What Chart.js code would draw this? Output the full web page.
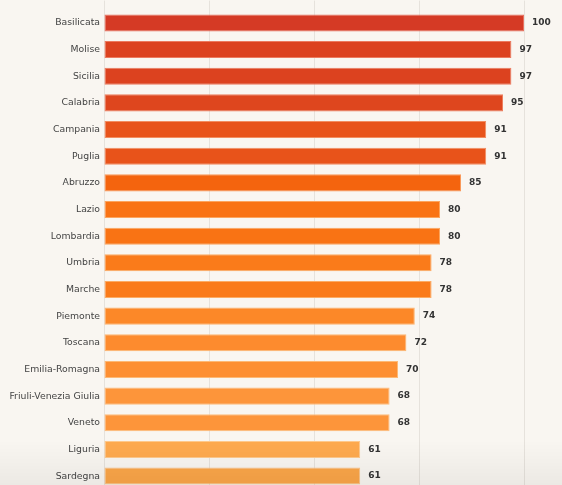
<!DOCTYPE html>
<html>
<head>
<meta charset="utf-8">
<script src="https://cdn.jsdelivr.net/npm/chart.js@4"></script>
<style>
  html, body { margin: 0; padding: 0; background: #f9f6f1; overflow: hidden; }
  #wrap { position: relative; width: 562px; height: 499px; }
  #shade { position: absolute; left: 0; right: 0; top: 440px; height: 45px;
    background: linear-gradient(to bottom, rgba(0,0,0,0), rgba(0,0,0,0.05)); pointer-events: none; }
</style>
</head>
<body>
<div id="wrap">
  <canvas id="chart"></canvas>
  <div id="shade"></div>
</div>
<script>
const regions = ["Basilicata","Molise","Sicilia","Calabria","Campania","Puglia","Abruzzo","Lazio","Lombardia","Umbria","Marche","Piemonte","Toscana","Emilia-Romagna","Friuli-Venezia Giulia","Veneto","Liguria","Sardegna"]
const values = [100,97,97,95,91,91,85,80,80,78,78,74,72,70,68,68,61,61]
const barColors = ["#d53a25","#dc421f","#dc421f","#de461e","#e8531a","#e8531a","#f4640e","#f97314","#f97314","#fa7b1a","#fa7b1a","#fc8828","#fd8b2e","#fd8f32","#fd953a","#fd953a","#feaa4f","#fba649"]
const borderColors = ["#e8705f","#ec7a5e","#ec7a5e","#ee7e5c","#f28d60","#f28d60","#f9995a","#fca55e","#fca55e","#fcac64","#fcac64","#fdb46e","#fdb672","#fdb975","#fdbd7c","#fdbd7c","#fec98c","#fcc489"]

const valueLabels = {
    id: "valueLabels",
    afterDatasetsDraw(chart){
        const ctx = chart.ctx
        const meta = chart.getDatasetMeta(0)
        ctx.save()
        ctx.font = "bold 9px 'DejaVu Sans'"
        ctx.fillStyle = "#333333"
        ctx.textBaseline = "middle"
        ctx.textAlign = "left"
        meta.data.forEach((bar, i) => {
            ctx.fillText(values[i], bar.x + 8, bar.y)
        })
        ctx.restore()
    }
}

const ctx = document.getElementById("chart").getContext("2d")
const myChart = new Chart(ctx, {
    type: "bar",
    data: {
        labels: regions,
        datasets: [{
            data: values,
            backgroundColor: barColors,
            borderColor: borderColors,
            borderWidth: 1,
            borderSkipped: false,
            barPercentage: 0.64,
            categoryPercentage: 1
        }]
    },
    options: {
        indexAxis: "y",
        responsive: true,
        maintainAspectRatio: false,
        animation: false,
        layout: { padding: { top: 0, right: 38, bottom: 0, left: 0 } },
        plugins: { legend: { display: false }, tooltip: { enabled: false } },
        scales: {
            x: {
                position: "top",
                min: 0,
                max: 100,
                ticks: { display: false, stepSize: 25 },
                grid: { color: "#e6e2dc", lineWidth: 1, tickLength: 9, drawTicks: true },
                border: { display: false },
                afterFit(scale){ scale.height = 9 }
            },
            y: {
                ticks: { color: "#444444", font: { family: "'DejaVu Sans'", size: 9.3 }, padding: 4 },
                grid: { display: false, drawTicks: false },
                border: { display: false },
                afterFit(scale){ scale.width = 104 }
            }
        }
    },
    plugins: [valueLabels]
})
</script>
</body>
</html>
